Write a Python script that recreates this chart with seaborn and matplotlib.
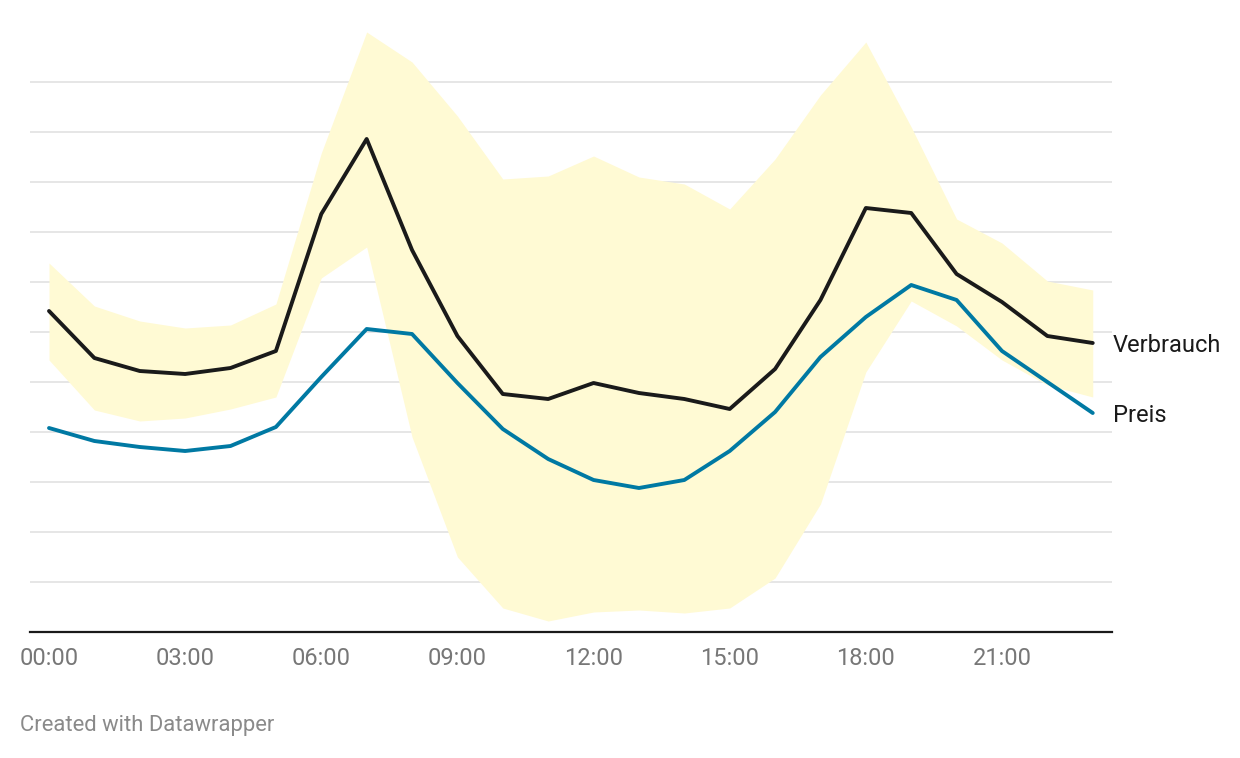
import matplotlib
matplotlib.use("Agg")
import matplotlib.pyplot as plt
import seaborn as sns
import pandas as pd
import numpy as np

hours = list(range(24))
tick_hours = [0, 3, 6, 9, 12, 15, 18, 21]
tick_labels = ["00:00", "03:00", "06:00", "09:00", "12:00", "15:00", "18:00", "21:00"]

verbrauch = [6.42, 5.48, 5.22, 5.16, 5.28, 5.62, 8.36, 9.86, 7.64, 5.92, 4.76, 4.66,
             4.98, 4.78, 4.66, 4.46, 5.26, 6.64, 8.48, 8.38, 7.16, 6.60, 5.92, 5.78]
preis = [4.08, 3.82, 3.70, 3.62, 3.72, 4.10, 5.10, 6.06, 5.96, 4.98, 4.06, 3.46,
         3.04, 2.88, 3.04, 3.62, 4.40, 5.50, 6.30, 6.94, 6.64, 5.62, 5.00, 4.38]
band_upper = [7.38, 6.52, 6.22, 6.08, 6.14, 6.56, 9.58, 12.0, 11.4, 10.32, 9.06, 9.12,
              9.52, 9.10, 8.96, 8.46, 9.46, 10.74, 11.8, 10.1, 8.26, 7.78, 7.02, 6.84]
band_lower = [5.44, 4.44, 4.22, 4.28, 4.46, 4.70, 7.08, 7.70, 3.90, 1.50, 0.48, 0.22,
              0.40, 0.44, 0.38, 0.48, 1.08, 2.56, 5.20, 6.62, 6.12, 5.44, 4.94, 4.70]
gridlines = list(range(1, 12))

sns.set_theme(style="white")
plt.rcParams["font.family"] = ["Roboto", "DejaVu Sans"]

W, H = 1240, 758
fig = plt.figure(figsize=(W / 100, H / 100), dpi=100)
ax = fig.add_axes([30 / W, 1 - 632 / H, (1112 - 30) / W, (632 - 20) / H])

df = pd.DataFrame({"hour": hours, "Verbrauch": verbrauch, "Preis": preis})

ax.fill_between(hours, band_lower, band_upper, color="#fffad4", linewidth=0, zorder=1)
for g in gridlines:
    ax.axhline(g, color="#e2e2e2", linewidth=1.2, zorder=0.5)

sns.lineplot(data=df, x="hour", y="Verbrauch", ax=ax, color="#1a1a1a", linewidth=2.8, zorder=3)
sns.lineplot(data=df, x="hour", y="Preis", ax=ax, color="#0079a3", linewidth=2.8, zorder=3)

ax.set_xlim(-19 / 45.38, (1112 - 49) / 45.38)
ax.set_ylim(0, 12.24)
ax.set_xticks(tick_hours)
ax.set_xticklabels(tick_labels, fontsize=17, color="#777777")
ax.set_yticks([])
ax.tick_params(axis="x", length=0, pad=11)
ax.set_xlabel("")
ax.set_ylabel("")
for s in ["top", "right", "left"]:
    ax.spines[s].set_visible(False)
ax.spines["bottom"].set_color("#1a1a1a")
ax.spines["bottom"].set_linewidth(1.6)

ax.text(hours[-1] + 0.44, verbrauch[-1] - 0.05, "Verbrauch", fontsize=17, color="#1a1a1a",
        va="center", ha="left", clip_on=False)
ax.text(hours[-1] + 0.44, preis[-1] - 0.05, "Preis", fontsize=17, color="#1a1a1a",
        va="center", ha="left", clip_on=False)

fig.text(20 / W, 1 - 726 / H, "Created with Datawrapper", fontsize=15.8, color="#8a8a8a",
         va="center", ha="left")

fig.savefig("out.png", dpi=100)
